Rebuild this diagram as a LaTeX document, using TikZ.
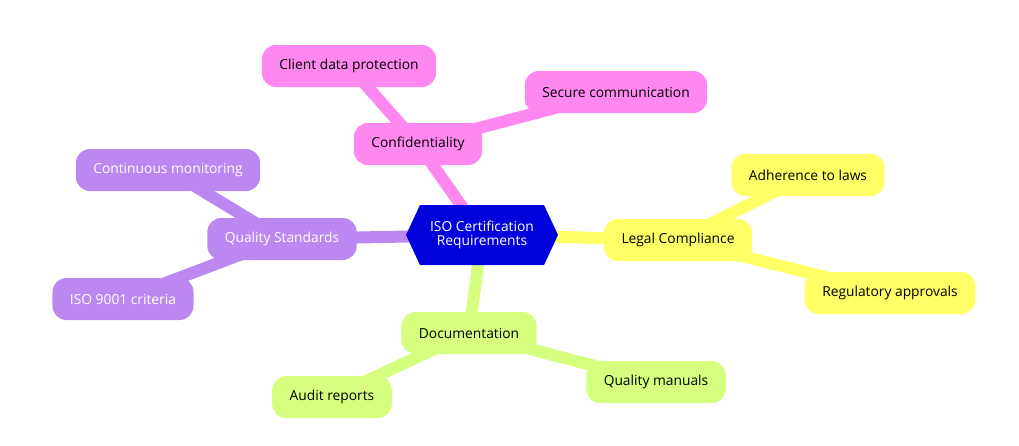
\documentclass[tikz,border=0pt]{standalone}
\usepackage{fontspec}
\setmainfont{Open Sans}
\usetikzlibrary{shapes.symbols,backgrounds}

\definecolor{pinkbr}{HTML}{FF88F0}
\definecolor{purplebr}{HTML}{BB88F2}
\definecolor{yellowbr}{HTML}{FFFF66}
\definecolor{greenbr}{HTML}{D6FF80}
\definecolor{rootblue}{HTML}{0000DD}

\begin{document}
\begin{tikzpicture}[x=1pt, y=-1pt, font=\fontsize{13.8}{16.5}\selectfont,
  topic/.style={rounded corners=14pt, minimum height=42pt, inner xsep=17.5pt, align=center},
  root/.style={shape=signal, signal to=west and east, signal pointer angle=130, fill=rootblue,
    text=white, minimum height=60pt, minimum width=152pt, inner xsep=6pt, align=center},
  link/.style={line width=12pt}]
  \useasboundingbox (0,0) rectangle (1019,445);
  \node[root] (iso) at (482,235) {ISO Certification\\[-2pt]Requirements};
  % confidentiality branch
  \node[topic, fill=pinkbr] (conf) at (418,144) {Confidentiality};
  \node[topic, fill=pinkbr] (client) at (349,66) {Client data protection};
  \node[topic, fill=pinkbr] (secure) at (616,92) {Secure communication};
  % quality branch
  \node[topic, fill=purplebr, text=white] (quality) at (282,239) {Quality Standards};
  \node[topic, fill=purplebr, text=white] (monitor) at (168,170) {Continuous monitoring};
  \node[topic, fill=purplebr, text=white] (criteria) at (123,299) {ISO 9001 criteria};
  % legal branch
  \node[topic, fill=yellowbr] (legal) at (678,240) {Legal Compliance};
  \node[topic, fill=yellowbr] (laws) at (808,175) {Adherence to laws};
  \node[topic, fill=yellowbr] (approvals) at (890,293) {Regulatory approvals};
  % documentation branch
  \node[topic, fill=greenbr] (docs) at (469,333) {Documentation};
  \node[topic, fill=greenbr] (audit) at (332,397) {Audit reports};
  \node[topic, fill=greenbr] (manuals) at (656,382) {Quality manuals};
  \begin{scope}[on background layer]
    \draw[link, pinkbr] (iso.center) -- (conf.center) (conf.center) -- (client.center)
      (conf.center) -- (secure.center);
    \draw[link, purplebr] (iso.center) -- (quality.center) (quality.center) -- (monitor.center)
      (quality.center) -- (criteria.center);
    \draw[link, yellowbr] (iso.center) -- (legal.center) (legal.center) -- (laws.center)
      (legal.center) -- (approvals.center);
    \draw[link, greenbr] (iso.center) -- (docs.center) (docs.center) -- (audit.center)
      (docs.center) -- (manuals.center);
  \end{scope}
\end{tikzpicture}
\end{document}
